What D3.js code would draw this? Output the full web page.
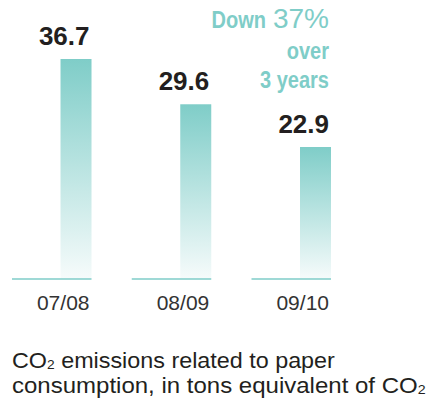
<!DOCTYPE html>
<html>
<head>
<meta charset="utf-8">
<script src="https://cdn.jsdelivr.net/npm/d3@7"></script>
<style>
  html, body { margin: 0; padding: 0; background: #fff; }
  svg { display: block; }
</style>
</head>
<body>
<script>
// Paper-related CO2 emissions per fiscal year
const categories = ["07/08", "08/09", "09/10"];
const values = [36.7, 29.6, 22.9];
const valueLabels = ["36.7", "29.6", "22.9"];
const changeLabel = ["Down", "37%"];
const noteLines = ["over", "3 years"];
const captionLines = [["CO", "2", " emissions related to paper"], ["consumption, in tons equivalent of CO", "2", ""]];

const W = 428, H = 400;
const teal = "#7fcdc8";
const ink = "#231f20";

// Set measure of each caption line, in pixels
const captionMeasure = [323, 414];

const svg = d3.select("body").append("svg")
  .attr("width", W).attr("height", H);

const defs = svg.append("defs");
const grad = defs.append("linearGradient")
  .attr("id", "barFade")
  .attr("x1", 0).attr("y1", 0).attr("x2", 0).attr("y2", 1);
grad.append("stop").attr("offset", "0%").attr("stop-color", teal);
grad.append("stop").attr("offset", "100%").attr("stop-color", "#f6fbfb");

// One slot per year: a baseline segment with the bar sitting at its right end
const x = d3.scaleBand()
  .domain(categories)
  .range([12, 331])
  .paddingInner(0.336)
  .paddingOuter(0);

const baseY = 279;
const y = d3.scaleLinear()
  .domain([2.2, 36.7])
  .range([baseY, 59]);

const barW = 31;
const barX = d => x(d) + x.bandwidth() - barW;

const g = svg.append("g");

g.selectAll("rect.bar")
  .data(categories)
  .join("rect")
  .attr("class", "bar")
  .attr("x", d => barX(d))
  .attr("width", barW)
  .attr("y", (d, i) => y(values[i]))
  .attr("height", (d, i) => baseY - y(values[i]))
  .attr("fill", "url(#barFade)");

g.selectAll("line.base")
  .data(categories)
  .join("line")
  .attr("class", "base")
  .attr("x1", d => x(d))
  .attr("x2", d => x(d) + x.bandwidth())
  .attr("y1", baseY)
  .attr("y2", baseY)
  .attr("stroke", teal)
  .attr("stroke-width", 1.6);

// Value labels, right-aligned over each bar
g.selectAll("text.val")
  .data(categories)
  .join("text")
  .attr("class", "val")
  .attr("x", d => x(d) + x.bandwidth() - 2)
  .attr("y", (d, i) => y(values[i]) - 14)
  .attr("text-anchor", "end")
  .attr("font-family", "Liberation Sans, Arial, sans-serif")
  .attr("font-weight", "bold")
  .attr("font-size", 26)
  .attr("fill", ink)
  .text((d, i) => valueLabels[i]);

// Category labels under the baselines
g.selectAll("text.cat")
  .data(categories)
  .join("text")
  .attr("class", "cat")
  .attr("x", d => x(d) + x.bandwidth() - 2)
  .attr("y", baseY + 31)
  .attr("text-anchor", "end")
  .attr("font-family", "Liberation Sans, Arial, sans-serif")
  .attr("font-size", 21)
  .attr("fill", "#333")
  .text(d => d);

// Condense a text element horizontally to a given share of its natural width
function condense(sel, k) {
  sel.each(function() {
    const w = this.getComputedTextLength();
    d3.select(this).attr("textLength", w * k).attr("lengthAdjust", "spacingAndGlyphs");
  });
}

// Change note in the upper right
const noteX = x(categories[2]) + x.bandwidth() - 2;
const down = svg.append("text")
  .attr("x", 266)
  .attr("y", 28)
  .attr("text-anchor", "end")
  .attr("font-family", "Liberation Sans, Arial, sans-serif")
  .attr("font-weight", "bold")
  .attr("font-size", 23)
  .attr("fill", teal)
  .text(changeLabel[0]);
condense(down, 0.87);

svg.append("text")
  .attr("x", noteX)
  .attr("y", 28)
  .attr("text-anchor", "end")
  .attr("font-family", "Liberation Sans, Arial, sans-serif")
  .attr("font-size", 28)
  .attr("fill", teal)
  .text(changeLabel[1]);

const notes = svg.selectAll("text.note")
  .data(noteLines)
  .join("text")
  .attr("class", "note")
  .attr("x", noteX)
  .attr("y", (d, i) => 59 + i * 29)
  .attr("text-anchor", "end")
  .attr("font-family", "Liberation Sans, Arial, sans-serif")
  .attr("font-weight", "bold")
  .attr("font-size", 23)
  .attr("fill", teal)
  .text(d => d);
condense(notes, 0.87);

// Caption: each line is stretched horizontally to its set measure
const cap = svg.selectAll("text.cap")
  .data(captionLines)
  .join("text")
  .attr("class", "cap")
  .attr("x", 0)
  .attr("y", 0)
  .attr("font-family", "Liberation Sans, Arial, sans-serif")
  .attr("font-size", 22)
  .attr("fill", ink);
cap.each(function(parts, i) {
  const t = d3.select(this);
  t.append("tspan").text(parts[0]);
  t.append("tspan").attr("font-size", 13).attr("dy", 1).text(parts[1]);
  if (parts[2]) t.append("tspan").attr("dy", -1).text(parts[2]);
  const w = this.getBBox().width;
  const k = captionMeasure[i] / w;
  t.attr("transform", `translate(12,${368 + i * 25}) scale(${k},1)`);
});
</script>
</body>
</html>
